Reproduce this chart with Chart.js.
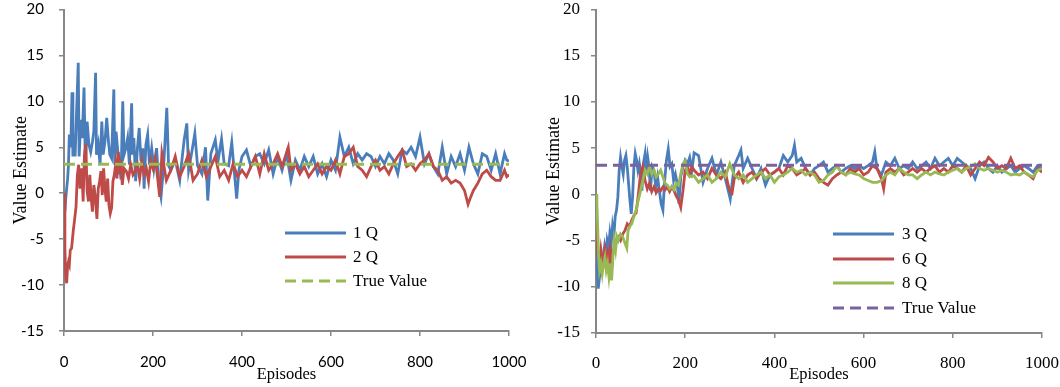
<!DOCTYPE html>
<html>
<head>
<meta charset="utf-8">
<script src="https://cdn.jsdelivr.net/npm/chart.js@4.4.0/dist/chart.umd.min.js"></script>
<style>
  body { margin: 0; background: #fff; }
  #wrap { position: relative; width: 1060px; height: 387px; }
  canvas { position: absolute; top: 0; }
  .lg { position: absolute; font-family: "Liberation Serif", serif; font-size: 17px; line-height: 18px; color: #000; white-space: nowrap; }
  svg { position: absolute; left: 0; top: 0; }
</style>
</head>
<body>
<div id="wrap">
  <canvas id="left" width="530" height="387" style="left:0"></canvas>
  <canvas id="right" width="530" height="387" style="left:530px"></canvas>
  <svg width="1060" height="387" id="swatches"></svg>
</div>
<script>
// values, [episode, value estimate]
const trueValue = 3.15;
const xTicks = [0, 200, 400, 600, 800, 1000];
const yTicks = [-15, -10, -5, 0, 5, 10, 15, 20];

const oneQ = [[0,-1.5],[2,-2],[4,-0.5],[6,0.5],[8,1.5],[10,3],[12,6.4],[14,5],[16,6.5],[18,11],[20,4],[22,6.4],[25,4],[28,8.5],[32,14.2],[34,4],[38,8],[41,6],[45,11.5],[48,3],[52,7.8],[56,5.3],[60,4.5],[64,5.6],[67,6.7],[71,13.1],[73,4.2],[77,5.3],[81,3.1],[85,7.8],[88,4.2],[92,5.6],[96,8.2],[100,5.6],[103,4.2],[107,3.8],[112,11.3],[114,3.1],[117,6.7],[121,4.5],[124,3.5],[128,1.5],[132,10],[135,4.2],[139,4.9],[143,6],[147,3.1],[152,9.8],[154,4.2],[157,6],[161,1.3],[165,4.9],[169,7.1],[173,3.5],[177,4.9],[180,0.5],[184,5.3],[188,6.4],[192,3.1],[197,4.9],[202,2.7],[208,4.9],[213,1],[218,-0.4],[224,3],[231,9.3],[235,3],[240,2.5],[250,3.6],[260,1.4],[270,5.8],[276,7.6],[280,2.5],[288,4.7],[294,6.5],[300,3],[310,2.1],[318,5],[323,-0.8],[330,4.3],[340,5.8],[346,3.5],[354,5.9],[360,3.2],[370,3],[377,5.5],[388,-0.6],[393,2.5],[400,4],[410,4.7],[420,2.9],[430,4],[440,4.3],[450,3.2],[460,4.7],[470,2.1],[480,4],[490,2.5],[500,4.3],[510,1.4],[520,3.6],[530,2.5],[540,4],[550,2.9],[560,4],[570,2.1],[580,3.2],[590,1.8],[600,3.6],[610,2.5],[620,6.1],[630,4],[640,5],[650,3.2],[660,4.3],[670,3.6],[680,4.3],[690,4],[700,2.9],[710,4],[720,3.2],[730,4.3],[740,3.6],[750,2.1],[760,4.7],[770,4.3],[780,5],[790,4],[800,6.1],[810,3.2],[820,4.3],[830,2.9],[840,2.1],[850,5],[860,2.1],[870,4],[880,2.9],[890,4.3],[900,2.5],[910,5],[920,3.2],[930,2.1],[940,4.3],[950,4],[960,2.5],[970,4.3],[980,2.1],[990,4.3],[995,3.6],[1000,3.5]];

const twoQ = [[0,0],[2,-6],[4,-9],[6,-9.8],[8,-8],[10,-7.5],[12,-7.8],[14,-6.2],[17,-6],[19,-5],[21,-4],[24,-2.8],[27,-1.5],[30,2],[33,3.1],[36,0.5],[40,2.7],[43,-0.9],[46,4.2],[49,5.3],[52,0.2],[55,-0.9],[58,2],[61,-0.5],[64,-2],[67,0.9],[70,-0.2],[74,-2.8],[77,0.5],[80,1.3],[83,2.4],[86,-0.2],[89,2.7],[92,0.5],[95,-0.9],[98,1.6],[101,-1.3],[104,-2.2],[107,-1.6],[110,1.3],[113,2],[116,3.1],[119,1.6],[122,4.5],[125,2.7],[128,3.1],[131,0.9],[135,2.7],[140,2.4],[145,1.6],[150,3.1],[155,2],[160,2.4],[165,3.1],[170,1.6],[175,3.5],[180,2],[185,2.7],[190,1.3],[195,3.5],[200,2.7],[205,3.8],[210,1.8],[215,-0.4],[220,4.3],[230,1.4],[240,2.5],[250,4],[260,1.8],[270,2.9],[280,4.3],[290,1.4],[300,2.1],[310,3.6],[320,1.8],[330,2.9],[340,4],[350,1.8],[360,2.5],[370,1.4],[380,3.2],[390,1.8],[400,2.5],[410,1.8],[420,2.9],[430,4],[440,2.1],[450,4.3],[460,2.5],[470,3.2],[480,4.3],[490,2.9],[504,5],[510,2.5],[520,3.2],[530,2.1],[540,2.9],[550,1.8],[560,2.5],[570,3.2],[580,2.1],[590,2.9],[600,2.5],[610,3.6],[620,2.1],[630,4],[640,4.3],[650,5],[660,2.9],[670,2.5],[680,1.8],[690,2.9],[700,3.6],[710,2.5],[720,2.9],[730,2.1],[740,3.2],[750,4],[760,4.7],[770,2.9],[780,3.2],[790,2.5],[800,3.2],[810,3.6],[820,4.3],[830,2.9],[840,2.5],[850,1.4],[860,1.8],[870,1.1],[880,1.4],[890,1.1],[900,0.3],[908,-1.2],[914,-0.4],[920,0.3],[930,1.1],[940,2.1],[950,2.5],[960,1.8],[970,1.4],[980,1.4],[990,2.5],[995,1.8],[1000,2]];

const threeQ = [[0,0],[3,-8.2],[5,-10.2],[8,-8.9],[10,-7.5],[13,-8.2],[16,-6.8],[19,-5.7],[22,-6.8],[25,-5],[28,-5.7],[31,-4.2],[34,-5.3],[37,-3.5],[40,-4.6],[43,-2.4],[46,-1.7],[49,-0.3],[52,2.6],[55,4],[58,3],[61,2.2],[64,3.7],[67,4.2],[70,3],[73,1.2],[76,-0.6],[79,-2.1],[82,-0.3],[85,3],[88,4.4],[91,3.7],[94,2.6],[97,3.3],[100,1.9],[103,0.4],[106,3.3],[110,4.4],[113,2.2],[116,4],[119,3],[122,0.4],[126,3],[130,2.6],[134,0.8],[138,1.9],[142,0.4],[146,-1],[150,-1.7],[154,1.5],[158,3.7],[162,4.9],[166,3],[170,3.3],[174,1.5],[178,2.2],[182,1.2],[186,-1],[190,1.9],[195,3],[200,3.7],[205,3.3],[210,4],[215,2.6],[220,4.5],[230,4.2],[240,1.3],[250,2.8],[260,3.9],[270,2.1],[280,3.5],[290,1.7],[296,0.5],[301,-0.5],[310,3.1],[320,4.2],[325,4.8],[330,2.8],[340,3.9],[350,2.8],[360,1.7],[370,2.8],[380,1],[390,2.1],[400,2.4],[410,2.8],[420,4.2],[430,3.5],[440,4.2],[445,5.3],[450,3.5],[460,3.9],[470,2.8],[480,2.1],[490,2.8],[500,3.1],[510,3.5],[520,2.4],[530,2.8],[540,3.1],[550,2.4],[560,2.8],[570,3.1],[580,2.8],[590,3.1],[600,2.8],[610,3.1],[620,3.5],[625,4.6],[630,2.8],[640,2.1],[650,3.5],[660,3.1],[670,3.9],[680,2.8],[690,3.1],[700,2.8],[710,3.5],[720,2.8],[730,3.1],[740,3.5],[750,2.8],[760,3.9],[770,3.1],[780,3.5],[790,3.9],[800,3.1],[810,3.9],[820,3.5],[830,3.1],[840,2.8],[850,1.7],[860,3.1],[870,3.5],[880,2.8],[890,2.4],[900,3.1],[910,2.4],[920,2.8],[930,3.1],[940,2.4],[950,2.8],[960,3.1],[970,2.8],[980,2.4],[990,3.1],[1000,2.8]];

const sixQ = [[0,0],[3,-5.7],[5,-6.4],[8,-7.5],[11,-6],[14,-7.1],[17,-6.8],[20,-6],[23,-7.1],[26,-6.4],[29,-7.5],[32,-6],[35,-7.1],[38,-6.4],[41,-5.7],[45,-5],[50,-4.6],[55,-5],[60,-4.3],[65,-3.9],[70,-3.2],[75,-3.5],[80,-2.8],[85,-2.3],[90,-2],[95,0],[100,2.3],[105,3],[110,1.5],[115,0.6],[120,1.2],[125,0.3],[130,0.8],[135,0.2],[140,0.6],[145,0.4],[150,0.8],[155,0.5],[160,0.8],[165,0.3],[170,0.8],[175,0.4],[180,-0.2],[185,-0.6],[190,-1.4],[195,0.4],[200,2.6],[205,3],[210,2.2],[215,3],[220,2.6],[230,2.1],[240,2.4],[250,1.7],[260,2.8],[270,2.1],[280,1.7],[290,2.4],[295,1.3],[300,0.3],[305,0.1],[310,1.7],[320,2.4],[330,1.3],[340,2.1],[350,2.4],[360,1.7],[370,2.4],[380,2.8],[390,2.1],[400,2.4],[410,2.8],[420,2.1],[430,3.1],[440,2.8],[450,2.1],[460,2.4],[470,2.8],[480,2.1],[490,2.4],[500,1.7],[510,1.3],[520,1],[530,1.7],[540,2.1],[550,2.4],[560,2.1],[570,2.8],[580,2.4],[590,2.8],[600,2.1],[610,2.4],[620,3.1],[630,2.8],[640,1.7],[645,0.6],[650,2.4],[660,2.8],[670,2.4],[680,2.8],[690,2.1],[700,2.4],[710,2.8],[720,2.4],[730,2.8],[740,2.4],[750,2.8],[760,3.1],[770,2.4],[780,2.8],[790,2.4],[800,3.1],[810,2.8],[820,2.4],[830,3.1],[840,2.1],[850,2.8],[860,3.5],[870,3.1],[880,4],[890,3.5],[900,2.8],[910,3.1],[920,2.8],[930,3.9],[940,2.8],[950,3.1],[960,2.4],[970,2.1],[980,1.7],[990,2.8],[1000,2.4]];

const eightQ = [[0,0],[2,-1],[4,-3.9],[6,-6.8],[8,-8.2],[11,-7.5],[14,-8.6],[17,-7.5],[20,-6.8],[23,-8.2],[26,-7.5],[29,-8.9],[32,-7.5],[35,-9.3],[38,-6.8],[41,-5],[44,-6],[47,-4.6],[50,-5],[55,-4.3],[60,-4.6],[65,-5.3],[69,-5.8],[72,-3.9],[75,-3.5],[80,-3.2],[85,-2.4],[90,-1.7],[95,-0.6],[100,0.4],[105,1.5],[110,2.6],[115,2.2],[120,3],[125,2.2],[130,2.6],[135,1.9],[140,2.2],[145,2.6],[150,1.9],[155,1.2],[160,1],[165,0.6],[170,0.8],[175,0.5],[180,1.2],[185,1],[190,2.2],[195,3.3],[200,3.6],[205,2.2],[210,1.9],[220,2],[230,1.3],[240,1.7],[250,2.1],[260,1.3],[270,1.7],[280,2.4],[290,1.9],[300,3.3],[310,2.1],[320,1.7],[330,2.1],[340,1.3],[350,1.7],[360,2.1],[370,2.4],[380,1.7],[390,2.1],[400,1.3],[410,1.9],[420,2.1],[430,2.4],[440,2.8],[450,2.4],[460,2.6],[470,2.1],[480,2.4],[490,2.1],[500,1.3],[510,1.5],[520,2.1],[530,2.4],[540,3.1],[550,2.4],[560,2.1],[570,2.4],[580,2.2],[590,2.1],[600,1.7],[610,1.5],[620,1.3],[630,1.3],[640,1.5],[650,2.1],[660,2.4],[670,2.1],[680,2.8],[690,2.4],[700,2.1],[710,2.1],[720,1.7],[730,2.1],[740,2.4],[750,2.1],[760,2.4],[770,2.2],[780,2.1],[790,2.4],[800,2.6],[810,2.8],[820,2.4],[830,2.8],[840,3],[850,3.3],[860,2.8],[870,2.6],[880,2.8],[890,2.6],[900,2.4],[910,2.6],[920,2.4],[930,2.1],[940,2.2],[950,2.1],[960,2.4],[970,2.1],[980,1.9],[990,2.6],[1000,2.8]];

const blue = '#4a7ebb', red = '#be4b48', green = '#98b954', purple = '#7d60a0';
const axisGray = '#878787';
const serif = '"Liberation Serif", "Times New Roman", serif';

const pts = arr => arr.map(([x, y]) => ({x, y}));
const trueLine = [{x: 0, y: trueValue}, {x: 1000, y: trueValue}];

function line(label, data, color, order) {
  return { label, data: pts(data), borderColor: color, borderWidth: 2.8, pointRadius: 0, tension: 0, order };
}
function dashed(color) {
  return { label: 'True Value', data: trueLine, borderColor: color, borderWidth: 3, borderDash: [11, 6], pointRadius: 0, order: 0 };
}

function opts(p) {
  return {
    responsive: false,
    animation: false,
    layout: { padding: { top: p.top, right: p.right, left: 0, bottom: 0 } },
    plugins: { legend: { display: false }, tooltip: { enabled: false } },
    scales: {
      x: {
        type: 'linear', min: 0, max: 1000,
        afterBuildTicks: s => { s.ticks = xTicks.map(v => ({value: v})); },
        ticks: { font: p.tickFont, color: '#000', padding: p.xPad, maxRotation: 0, callback: v => String(v) },
        grid: { drawOnChartArea: false, tickLength: 5, color: axisGray, lineWidth: 1.5 },
        border: { color: axisGray, width: 2 },
        title: { display: true, text: 'Episodes', font: { family: serif, size: 16.5 }, color: '#000', padding: { top: 0, bottom: 2 } },
        afterFit: s => { s.height = p.xH; s.paddingLeft = 0; s.paddingRight = 0; }
      },
      y: {
        type: 'linear', min: -15, max: 20,
        afterBuildTicks: s => { s.ticks = yTicks.map(v => ({value: v})); },
        ticks: { font: p.tickFont, color: '#000', padding: p.yPad, callback: v => String(v) },
        grid: { drawOnChartArea: false, tickLength: 5, color: axisGray, lineWidth: 1.5 },
        border: { color: axisGray, width: 2 },
        title: { display: true, text: 'Value Estimate', font: { family: serif, size: 18 }, color: '#000', padding: { top: p.yTitle, bottom: 0 } },
        afterFit: s => { s.width = p.yW; s.paddingTop = 0; s.paddingBottom = 0; }
      }
    }
  };
}

new Chart(document.getElementById('left'), {
  type: 'line',
  data: { datasets: [line('1 Q', oneQ, blue, 3), line('2 Q', twoQ, red, 2), dashed(green)] },
  options: opts({ top: 9.5, right: 21, xH: 56, yW: 64, xPad: 17, yPad: 15, yTitle: 10,
                  tickFont: { family: 'Lato, "Liberation Sans", sans-serif', size: 15 } })
});

new Chart(document.getElementById('right'), {
  type: 'line',
  data: { datasets: [line('3 Q', threeQ, blue, 4), line('6 Q', sixQ, red, 3), line('8 Q', eightQ, green, 2), dashed(purple)] },
  options: opts({ top: 9.5, right: 18, xH: 54, yW: 66, xPad: 15, yPad: 11, yTitle: 13,
                  tickFont: { family: serif, size: 17 } })
});

// legends drawn as html text with svg sample lines
const legends = [
  { x: 285, textX: 353, items: [['1 Q', blue, false, 233], ['2 Q', red, false, 257], ['True Value', green, true, 281]] },
  { x: 833, textX: 902, items: [['3 Q', blue, false, 234], ['6 Q', red, false, 259], ['8 Q', green, false, 283], ['True Value', purple, true, 308]] }
];
const svg = document.getElementById('swatches');
const wrap = document.getElementById('wrap');
legends.forEach(lg => {
  lg.items.forEach(([text, color, dash, y]) => {
    const l = document.createElementNS('http://www.w3.org/2000/svg', 'line');
    l.setAttribute('x1', lg.x); l.setAttribute('x2', lg.x + 61);
    l.setAttribute('y1', y); l.setAttribute('y2', y);
    l.setAttribute('stroke', color); l.setAttribute('stroke-width', 3);
    if (dash) l.setAttribute('stroke-dasharray', '11 6');
    svg.appendChild(l);
    const d = document.createElement('div');
    d.className = 'lg';
    d.style.left = lg.textX + 'px';
    d.style.top = (y - 9) + 'px';
    d.textContent = text;
    wrap.appendChild(d);
  });
});
</script>
</body>
</html>
